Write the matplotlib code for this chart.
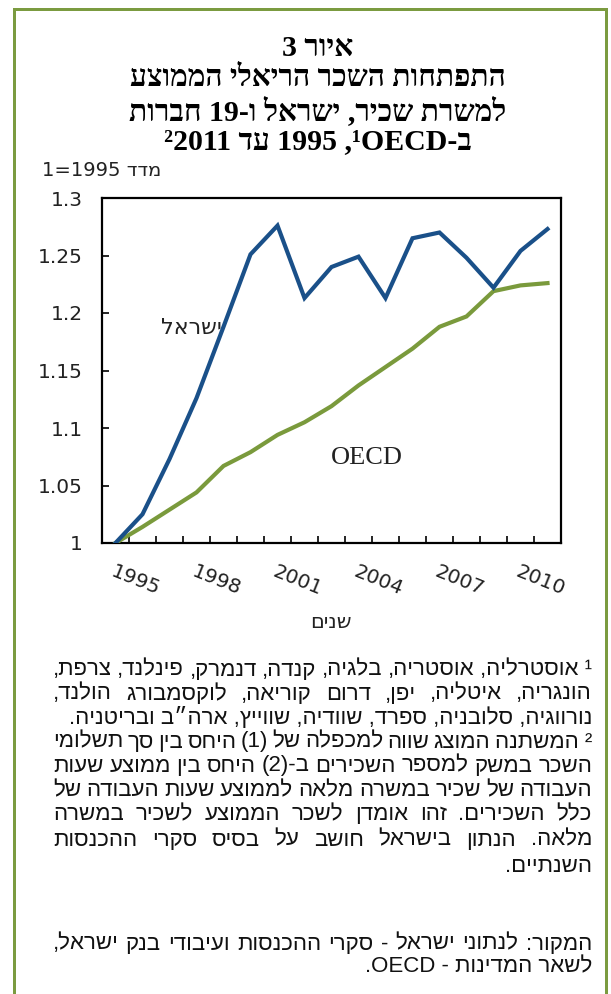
import re
import matplotlib
matplotlib.use('Agg')
import matplotlib.pyplot as plt
from matplotlib.lines import Line2D
from matplotlib.ticker import FixedLocator

# ---------------- data ----------------
years = list(range(1995, 2012))
israel = [1.000, 1.025, 1.073, 1.126, 1.188, 1.251, 1.276, 1.213, 1.240, 1.249,
          1.213, 1.265, 1.270, 1.248, 1.222, 1.254, 1.273]
oecd = [1.000, 1.014, 1.029, 1.044, 1.067, 1.079, 1.094, 1.105, 1.119, 1.137,
        1.153, 1.169, 1.188, 1.197, 1.219, 1.224, 1.226]
year_labels = ['1995', '1998', '2001', '2004', '2007', '2010']
yticks = [1.0, 1.05, 1.1, 1.15, 1.2, 1.25, 1.3]
ytick_labels = ['1', '1.05', '1.1', '1.15', '1.2', '1.25', '1.3']

title_lines = ['איור 3',
               'התפתחות השכר הריאלי הממוצע',
               'למשרת שכיר, ישראל ו-19 חברות',
               'ב-OECD¹, 1995 עד 2011²']
unit_label = 'מדד 1995=1'
xlabel_text = 'שנים'
israel_name = 'ישראל'
oecd_name = 'OECD'

notes = [
    ('¹\u00a0אוסטרליה, אוסטריה, בלגיה, קנדה, דנמרק, פינלנד, צרפת,', 'justify'),
    ('הונגריה, איטליה, יפן, דרום קוריאה, לוקסמבורג הולנד,', 'justify'),
    ('נורווגיה, סלובניה, ספרד, שוודיה, שווייץ, ארה״ב ובריטניה.', 'right'),
    ('²\u00a0המשתנה המוצג שווה למכפלה של (1) היחס בין סך תשלומי', 'justify'),
    ('השכר במשק למספר השכירים ב-(2) היחס בין ממוצע שעות', 'justify'),
    ('העבודה של שכיר במשרה מלאה לממוצע שעות העבודה של', 'justify'),
    ('כלל השכירים. זהו אומדן לשכר הממוצע לשכיר במשרה', 'justify'),
    ('מלאה. הנתון בישראל חושב על בסיס סקרי ההכנסות', 'justify'),
    ('השנתיים.', 'right'),
]
source = [
    ('המקור: לנתוני ישראל - סקרי ההכנסות ועיבודי בנק ישראל,', 'justify'),
    ('לשאר המדינות - OECD.', 'right'),
]

# ---------------- helpers ----------------
W, H = 611, 994
MIRROR = {'(': ')', ')': '('}


def vis(s):
    """Logical RTL string -> visual order (keeps Latin/digit runs LTR)."""
    toks = re.findall(r'[A-Za-z0-9]+|.', s)
    out = []
    for t in reversed(toks):
        out.append(MIRROR.get(t, t))
    return ''.join(out)


def fx(px):
    return px / W


def fy(py):
    return 1 - py / H


BLUE = '#1A5089'
GREEN = '#7A9A3C'
BORDER = '#7B9B40'

SANS = ['DejaVu Sans']
HEB_SANS = ['Liberation Sans', 'DejaVu Sans']
SERIF = ['Liberation Serif', 'DejaVu Serif', 'DejaVu Sans']

fig = plt.figure(figsize=(W / 100, H / 100), dpi=100)
fig.patch.set_facecolor('white')

# ---------------- border ----------------
bw = 3 * 72 / 100
for xs, ys in [((13.5, 13.5), (1000, 8.5)), ((13.5, 605.5), (8.5, 8.5)),
               ((605.5, 605.5), (8.5, 1000))]:
    fig.add_artist(Line2D([fx(x) for x in xs], [fy(y) for y in ys],
                          color=BORDER, lw=bw, solid_capstyle='projecting'))

# ---------------- title ----------------
title_y = [48, 79, 111, 142]
for line, y in zip(title_lines, title_y):
    fig.text(fx(318), fy(y), vis(line), ha='center', va='center',
             fontsize=21.5, fontweight='bold', family=SERIF)

fig.text(fx(42), fy(170), vis(unit_label), ha='left', va='center',
         fontsize=14, family=SANS, color='#222222')

# ---------------- axes ----------------
L, R, T, B = 102, 561, 198, 543
ax = fig.add_axes([fx(L), fy(B), (R - L) / W, (B - T) / H])
x = list(range(len(years)))
ax.plot(x, oecd, color=GREEN, lw=3.0, solid_joinstyle='miter', zorder=3)
ax.plot(x, israel, color=BLUE, lw=3.0, solid_joinstyle='miter', zorder=4)
ax.set_xlim(-0.5, len(years) - 0.5)
ax.set_ylim(1.0, 1.3)

for s in ax.spines.values():
    s.set_linewidth(1.6)
    s.set_color('black')

label_pos = [years.index(int(y)) for y in year_labels]
ax.set_xticks(label_pos)
ax.set_xticklabels(year_labels, rotation=-22, ha='left', va='top',
                   rotation_mode='anchor', fontsize=14.5, family=SANS,
                   color='#222222')
ax.tick_params(axis='x', which='major', length=0, pad=14)
ax.xaxis.set_minor_locator(FixedLocator([i - 0.5 for i in range(1, len(years))]))
ax.tick_params(axis='x', which='minor', direction='in', length=5, width=1.2)

ax.set_yticks(yticks)
ax.set_yticklabels(ytick_labels, fontsize=14.5, family=SANS, color='#222222')
ax.tick_params(axis='y', direction='in', length=5, width=1.2, pad=14)

ax.text(2.8, 1.187, vis(israel_name), ha='center', va='center',
        fontsize=16, family=SANS, color='#222222')
ax.text(9.3, 1.074, oecd_name, ha='center', va='center',
        fontsize=19, family=SERIF, color='#222222')

fig.text(fx(331), fy(622), vis(xlabel_text), ha='center', va='center',
         fontsize=15, family=SANS, color='#222222')

# ---------------- footnotes ----------------
renderer = fig.canvas.get_renderer()
XL, XR = 53, 592
NOTE_FS = 16


def place_line(text, py, mode):
    if mode == 'right':
        fig.text(fx(XR), fy(py), vis(text), ha='right', va='center',
                 fontsize=NOTE_FS, family=HEB_SANS, color='#111111')
        return
    words = text.split(' ')
    arts = [fig.text(0, fy(py), vis(w), ha='left', va='center',
                     fontsize=NOTE_FS, family=HEB_SANS, color='#111111')
            for w in words]
    widths = [a.get_window_extent(renderer).width for a in arts]
    gap = (XR - XL - sum(widths)) / (len(words) - 1)
    xcur = XR
    for a, w in zip(arts, widths):
        a.set_x(fx(xcur - w))
        xcur -= w + gap


note_y = [670, 694, 718, 742, 766, 791, 815, 840, 866]
for (t, m), y in zip(notes, note_y):
    place_line(t, y, m)

src_y = [944, 967]
for (t, m), y in zip(source, src_y):
    place_line(t, y, m)

fig.savefig('out.png', dpi=100)
